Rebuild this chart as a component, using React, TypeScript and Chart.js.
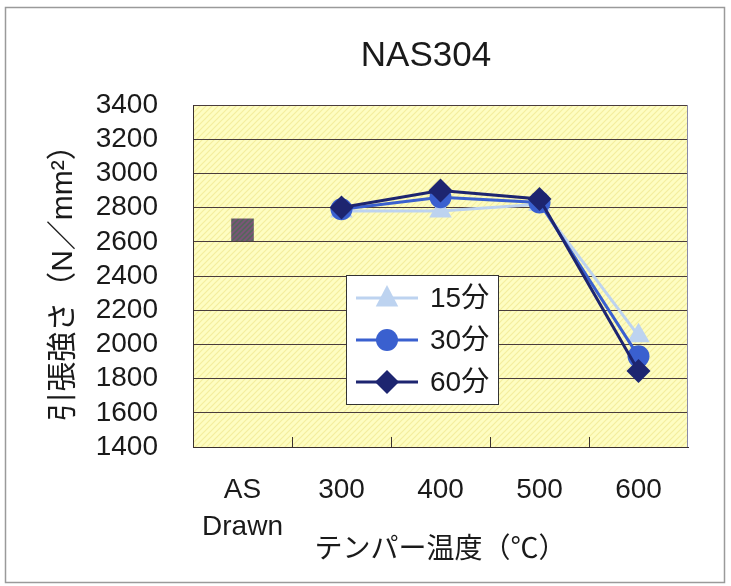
import React, { useEffect, useRef } from "react";
import { Chart, registerables } from "chart.js";

Chart.register(...registerables);

const categories: (string | string[])[] = [["AS", "Drawn"], "300", "400", "500", "600"];
const asDrawn: (number | null)[] = [2670, null, null, null, null];
const series15: (number | null)[] = [null, 2780, 2780, 2820, 2050];
const series30: (number | null)[] = [null, 2790, 2860, 2830, 1930];
const series60: (number | null)[] = [null, 2800, 2900, 2850, 1845];
const seriesNames = ["15分", "30分", "60分"];
const yTicks = { min: 1400, max: 3400, step: 200 };
const chartTitle = "NAS304";
const xTitle = "テンパー温度（℃）";
const yTitle = "引張強さ（N／mm²）";

const FONT = '"Liberation Sans", Arial, "Noto Sans CJK JP", sans-serif';
const C15 = "#bdd3f0";
const C30 = "#3a60cf";
const C60 = "#1d2570";
const TXT = "#1a1a1a";

function makePattern(bg: string, stripe: string, size: number, lw: number) {
  const c = document.createElement("canvas");
  c.width = size;
  c.height = size;
  const g = c.getContext("2d")!;
  g.fillStyle = bg;
  g.fillRect(0, 0, size, size);
  g.strokeStyle = stripe;
  g.lineWidth = lw;
  g.beginPath();
  g.moveTo(-1, size + 1);
  g.lineTo(size + 1, -1);
  g.moveTo(-1, 1);
  g.lineTo(1, -1);
  g.moveTo(size - 1, size + 1);
  g.lineTo(size + 1, size - 1);
  g.stroke();
  return g.createPattern(c, "repeat")!;
}

export default function App() {
  const ref = useRef<HTMLCanvasElement>(null);
  useEffect(() => {
    const canvas = ref.current!;
    const ctx0 = canvas.getContext("2d")!;
    const plotPattern = makePattern("#fefdc2", "#f4ee9e", 6, 1.2);
    const squarePattern = makePattern("#55675c", "#7c5478", 5, 1.8);

    function drawMarker(ctx: CanvasRenderingContext2D, style: string, r: number, x: number, y: number, color: string) {
      ctx.fillStyle = color;
      ctx.beginPath();
      if (style === "circle") {
        ctx.arc(x, y, r, 0, Math.PI * 2);
      } else if (style === "triangle") {
        ctx.moveTo(x, y - r);
        ctx.lineTo(x + r * Math.cos(Math.PI / 6), y + r / 2 + 2);
        ctx.lineTo(x - r * Math.cos(Math.PI / 6), y + r / 2 + 2);
        ctx.closePath();
      } else {
        ctx.moveTo(x, y - r);
        ctx.lineTo(x + r, y);
        ctx.lineTo(x, y + r);
        ctx.lineTo(x - r, y);
        ctx.closePath();
      }
      ctx.fill();
    }

    const decor = {
      id: "decor",
      beforeDraw(chart: any) {
        const { ctx, chartArea: a } = chart;
        ctx.save();
        ctx.fillStyle = "#ffffff";
        ctx.fillRect(0, 0, chart.width, chart.height);
        ctx.strokeStyle = "#9a9a9a";
        ctx.lineWidth = 1.5;
        ctx.strokeRect(5.5, 7.5, 719, 575);
        ctx.fillStyle = plotPattern;
        ctx.fillRect(a.left, a.top, a.right - a.left, a.bottom - a.top);
        ctx.restore();
      },
      afterDraw(chart: any) {
        const { ctx, chartArea: a } = chart;
        const xs = chart.scales.x;
        ctx.save();
        ctx.strokeStyle = "#8a8aa8";
        ctx.lineWidth = 1;
        ctx.beginPath();
        ctx.moveTo(a.right - 0.5, a.top);
        ctx.lineTo(a.right - 0.5, a.bottom);
        ctx.stroke();
        ctx.strokeStyle = "#3a3030";
        ctx.beginPath();
        for (let i = 0; i < categories.length - 1; i++) {
          const x = (xs.getPixelForValue(i) + xs.getPixelForValue(i + 1)) / 2;
          ctx.moveTo(Math.round(x) + 0.5, a.bottom);
          ctx.lineTo(Math.round(x) + 0.5, a.bottom - 10);
        }
        ctx.stroke();
        ctx.fillStyle = TXT;
        ctx.font = `35px ${FONT}`;
        ctx.textAlign = "center";
        ctx.textBaseline = "middle";
        ctx.fillText(chartTitle, 426, 56);
        const lx = a.left + 153;
        const ly = a.top + 170;
        const lw = 152;
        const lh = 129;
        ctx.fillStyle = "#ffffff";
        ctx.fillRect(lx, ly, lw, lh);
        ctx.strokeStyle = "#333";
        ctx.lineWidth = 1;
        ctx.strokeRect(lx + 0.5, ly + 0.5, lw, lh);
        const colors = [C15, C30, C60];
        const styles = ["triangle", "circle", "rectRot"];
        const radii = [13, 11, 12];
        for (let i = 0; i < 3; i++) {
          const cy = ly + 23 + i * 42;
          ctx.strokeStyle = colors[i];
          ctx.lineWidth = 3;
          ctx.beginPath();
          ctx.moveTo(lx + 10, cy);
          ctx.lineTo(lx + 72, cy);
          ctx.stroke();
          drawMarker(ctx, styles[i], radii[i], lx + 41, cy, colors[i]);
          ctx.fillStyle = TXT;
          ctx.font = `28px ${FONT}`;
          ctx.textAlign = "left";
          ctx.textBaseline = "middle";
          ctx.fillText(seriesNames[i], lx + 84, cy + 1);
        }
        ctx.restore();
      },
    };

    const chart = new Chart(ctx0, {
      type: "line",
      data: {
        labels: categories as any,
        datasets: [
          {
            label: "AS Drawn",
            data: asDrawn,
            showLine: false,
            pointStyle: "rect",
            pointRadius: 16,
            pointBackgroundColor: squarePattern as any,
            pointBorderWidth: 0,
            borderColor: "#5e6a5e",
            order: 3,
          },
          {
            label: seriesNames[0],
            data: series15,
            borderColor: C15,
            backgroundColor: C15,
            borderWidth: 3,
            pointStyle: "triangle",
            pointRadius: 13,
            pointBorderWidth: 0,
            order: 2,
          },
          {
            label: seriesNames[1],
            data: series30,
            borderColor: C30,
            backgroundColor: C30,
            borderWidth: 3,
            pointStyle: "circle",
            pointRadius: 11,
            pointBorderWidth: 0,
            order: 1,
          },
          {
            label: seriesNames[2],
            data: series60,
            borderColor: C60,
            backgroundColor: C60,
            borderWidth: 3,
            pointStyle: "rectRot",
            pointRadius: 12,
            pointBorderWidth: 0,
            order: 0,
          },
        ],
      },
      options: {
        animation: false,
        responsive: false,
        devicePixelRatio: 1,
        layout: { padding: { left: 0, top: 105, right: 43, bottom: 0 } },
        plugins: {
          legend: { display: false },
          title: { display: false },
          tooltip: { enabled: false },
        },
        scales: {
          x: {
            offset: true,
            grid: { display: false, drawTicks: false },
            border: { display: true, color: "#3a3030", width: 1 },
            ticks: {
              color: TXT,
              font: { family: FONT, size: 28, lineHeight: 1.35 },
              padding: 24,
              maxRotation: 0,
              autoSkip: false,
            },
            title: {
              display: true,
              text: xTitle,
              color: TXT,
              font: { family: FONT, size: 28, lineHeight: 1.2 },
              padding: { top: 0, bottom: 19 },
            },
            afterFit(scale: any) {
              scale.height = 586 - 447;
            },
          },
          y: {
            min: yTicks.min,
            max: yTicks.max,
            grid: { color: "#4a3c3c", lineWidth: 1, drawTicks: false },
            border: { display: true, color: "#3a3030", width: 1 },
            ticks: {
              stepSize: yTicks.step,
              autoSkip: false,
              color: TXT,
              font: { family: FONT, size: 28 },
              padding: 35,
              callback: (v: any) => String(v),
            },
            title: {
              display: true,
              text: yTitle,
              color: TXT,
              font: { family: FONT, size: 30, lineHeight: 1.2 },
              padding: { top: 46, bottom: 0 },
            },
            afterFit(scale: any) {
              scale.width = 193;
            },
          },
        },
      },
      plugins: [decor],
    });
    return () => chart.destroy();
  }, []);

  return (
    <div style={{ position: "fixed", left: 0, top: 0, width: 731, height: 586, background: "#fff" }}>
      <canvas ref={ref} width={731} height={586} style={{ width: 731, height: 586, display: "block" }} />
    </div>
  );
}
